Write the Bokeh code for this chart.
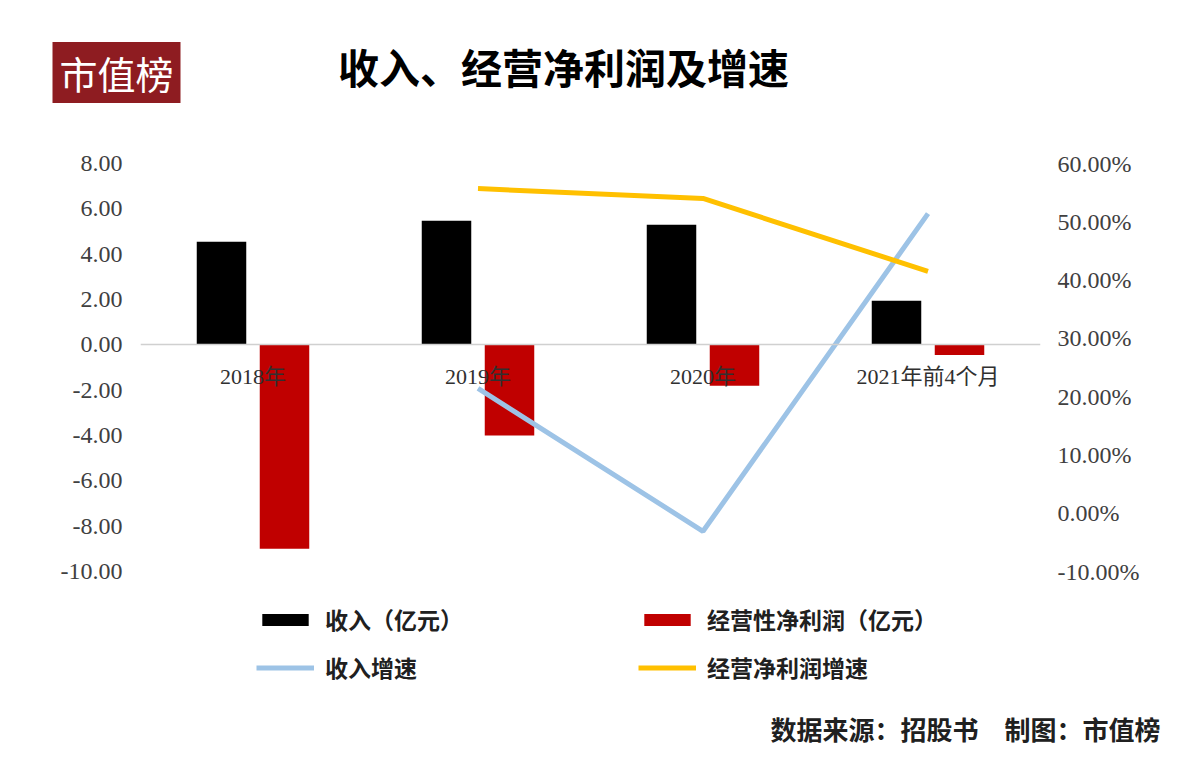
from bokeh.plotting import figure
from bokeh.models import (FactorRange, Range1d, LinearAxis, FixedTicker,
                          NumeralTickFormatter, Legend, LegendItem, Label,
                          ColumnDataSource)
from bokeh.transform import dodge
from bokeh.embed import file_html
from bokeh.resources import INLINE

# ---------------- data ----------------
categories = ["2018年", "2019年", "2020年", "2021年前4个月"]
revenue = [4.55, 5.47, 5.30, 1.95]                 # 收入（亿元）
op_profit = [-9.00, -4.00, -1.80, -0.45]           # 经营性净利润（亿元）
revenue_growth = [float("nan"), 0.214, -0.031, 0.514]   # 收入增速
profit_growth = [float("nan"), 0.557, 0.540, 0.415]     # 经营净利润增速

left_ticks = [-10, -8, -6, -4, -2, 0, 2, 4, 6, 8]
right_ticks = [-0.10, 0.0, 0.10, 0.20, 0.30, 0.40, 0.50, 0.60]

title_text = "收入、经营净利润及增速"
logo_text = "市值榜"
source_text = "数据来源：招股书　制图：市值榜"
legend_labels = ["收入（亿元）", "经营性净利润（亿元）", "收入增速", "经营净利润增速"]

# ---------------- styles / layout ----------------
BLACK = "#000000"
RED = "#C00000"
BLUE = "#9DC3E6"
YELLOW = "#FFC000"
LOGO_BG = "#8E1C21"
CJK = "Noto Sans CJK SC"
SERIF = "Liberation Serif, Noto Sans CJK SC"

# the axes show -10..8 (left) and -10%..60% (right) over the same 408 px;
# the frame continues below them so that the legend lies inside it
FRAME_TOP, TICK_BOTTOM, FRAME_BOTTOM = 163, 571, 712
left_lo, left_hi = -10.0, 8.0
right_lo, right_hi = -0.10, 0.60
ext = (FRAME_BOTTOM - TICK_BOTTOM) / (TICK_BOTTOM - FRAME_TOP)
y_left = Range1d(left_lo - ext * (left_hi - left_lo), left_hi)
y_right = Range1d(right_lo - ext * (right_hi - right_lo), right_hi)

src = ColumnDataSource(dict(cat=categories, rev=revenue, prof=op_profit,
                            rg=revenue_growth, pg=profit_growth))

p = figure(x_range=FactorRange(factors=categories, range_padding=0),
           y_range=y_left,
           width=1184, height=772, output_backend="svg", toolbar_location=None,
           min_border_left=140, min_border_right=144,
           min_border_top=FRAME_TOP, min_border_bottom=772 - FRAME_BOTTOM)
p.outline_line_color = None
p.xgrid.grid_line_color = None
p.ygrid.grid_line_color = None

p.extra_y_ranges = {"pct": y_right}

ly = p.left[0]
ly.ticker = FixedTicker(ticks=left_ticks)
ly.formatter = NumeralTickFormatter(format="0.00")
ly.axis_line_color = None
ly.major_tick_line_color = None
ly.minor_tick_line_color = None
ly.major_label_text_font = SERIF
ly.major_label_text_font_size = "24px"
ly.major_label_text_color = "#404040"
ly.major_label_standoff = 12

ry = LinearAxis(y_range_name="pct", ticker=FixedTicker(ticks=right_ticks),
                formatter=NumeralTickFormatter(format="0.00%"))
ry.axis_line_color = None
ry.major_tick_line_color = None
ry.minor_tick_line_color = None
ry.major_label_text_font = SERIF
ry.major_label_text_font_size = "24px"
ry.major_label_text_color = "#404040"
ry.major_label_standoff = 11
p.add_layout(ry, "right")

xa = p.below[0]
xa.fixed_location = 0
xa.axis_line_color = "#D0D0D0"
xa.axis_line_width = 1.5
xa.major_tick_line_color = None
xa.minor_tick_line_color = None
xa.major_tick_out = 0
xa.major_label_text_font = SERIF
xa.major_label_text_font_size = "22px"
xa.major_label_text_color = "#303030"
xa.major_label_standoff = 19

r_rev = p.vbar(x=dodge("cat", -0.14, range=p.x_range), top="rev", bottom=0,
               width=0.22, source=src, fill_color=BLACK, line_color=None)
r_prof = p.vbar(x=dodge("cat", 0.14, range=p.x_range), top=0, bottom="prof",
                width=0.22, source=src, fill_color=RED, line_color=None)
r_rg = p.line(x="cat", y="rg", source=src, y_range_name="pct",
              line_color=BLUE, line_width=5)
r_pg = p.line(x="cat", y="pg", source=src, y_range_name="pct",
              line_color=YELLOW, line_width=5)

# legends (two columns), inside the lower part of the frame
leg_common = dict(orientation="vertical", glyph_width=58, glyph_height=15,
                  label_height=24, spacing=14, label_standoff=11,
                  padding=0, margin=0, border_line_alpha=0,
                  background_fill_alpha=0,
                  label_text_font=CJK, label_text_font_size="23px",
                  label_text_font_style="bold", label_text_color="#202020")
leg_a = Legend(items=[LegendItem(label=legend_labels[0], renderers=[r_rev]),
                      LegendItem(label=legend_labels[2], renderers=[r_rg])],
               location=(116, 28), **leg_common)
leg_b = Legend(items=[LegendItem(label=legend_labels[1], renderers=[r_prof]),
                      LegendItem(label=legend_labels[3], renderers=[r_pg])],
               location=(498, 28), **leg_common)
p.add_layout(leg_a, "center")
p.add_layout(leg_b, "center")

# title, logo and source placed in canvas pixels (side panel: not clipped)
p.add_layout(Label(x=116, y=72, x_units="canvas", y_units="canvas",
                   text=logo_text, text_align="center", text_baseline="middle",
                   text_font=CJK, text_font_size="38px", text_color="white",
                   background_fill_color=LOGO_BG, padding=(7, 3)), "above")
p.add_layout(Label(x=563, y=65, x_units="canvas", y_units="canvas",
                   text=title_text, text_align="center", text_baseline="middle",
                   text_font=CJK, text_font_size="41px", text_font_style="bold",
                   text_color="#000000"), "above")
p.add_layout(Label(x=1160, y=728, x_units="canvas", y_units="canvas",
                   text=source_text, text_align="right", text_baseline="middle",
                   text_font=CJK, text_font_size="26px", text_font_style="bold",
                   text_color="#202020"), "above")

open("out.html", "w").write(file_html(p, INLINE))
